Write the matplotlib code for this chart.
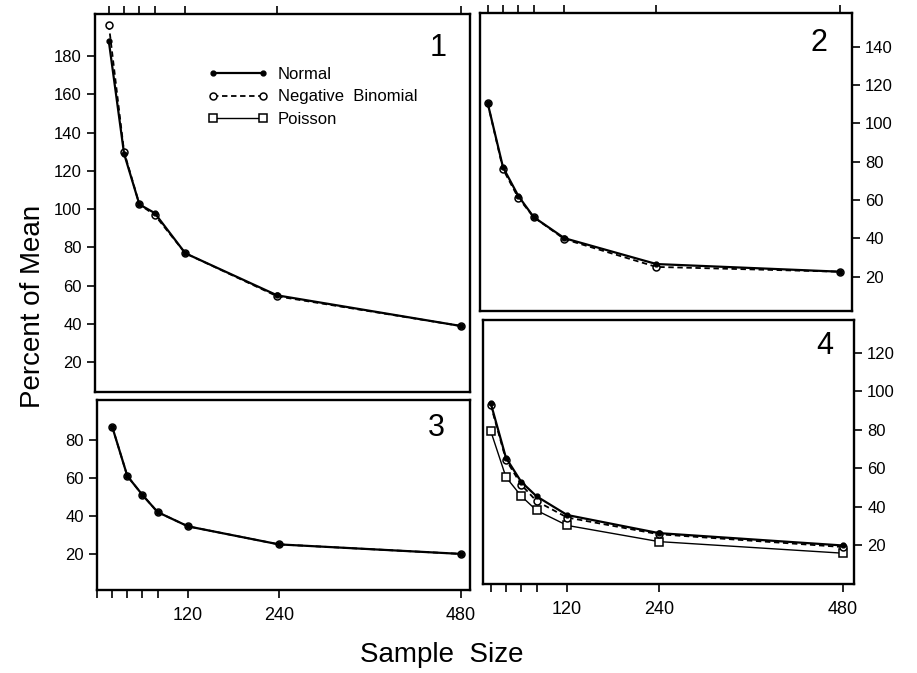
import numpy as np
import matplotlib.pyplot as plt

plt.rcParams['font.family'] = ['Liberation Sans', 'DejaVu Sans']

# sample sizes
sizes = [20, 40, 60, 80, 120, 240, 480]

# panel 1
p1_normal = [188, 129, 102.5, 98, 77, 55, 39]
p1_negbin = [196.5, 130, 102.5, 97, 77, 54.5, 39]
# panel 2
p2_normal = [110.5, 77, 62, 51, 40, 26.5, 22.5]
p2_negbin = [110.5, 76, 61, 51, 39.5, 25, 22.5]
# panel 3
p3_normal = [87, 61, 51, 42, 34.5, 25, 20]
p3_negbin = [87, 61, 51, 42, 34.5, 25, 20]
# panel 4
p4_normal = [94, 65.5, 53, 45.5, 35.8, 26.4, 20]
p4_negbin = [93, 64.5, 51.5, 43, 34.5, 25.8, 19.2]
p4_poisson = [79.5, 55.5, 45.6, 38.2, 30.4, 22, 16]

minor_x = [20, 40, 60, 80]
major_x = [120, 240, 480]

W, H = 917, 673
fig = plt.figure(figsize=(W / 100, H / 100), dpi=100)


def box(l, r, t, b):
    return fig.add_axes([l / W, 1 - b / H, (r - l) / W, (b - t) / H])


ax1 = box(95, 470, 14, 392)
ax2 = box(480, 852, 13, 311)
ax3 = box(97, 470, 400, 590)
ax4 = box(483, 854, 320, 584)

sty_n = dict(color='black', lw=1.6, ls='-', marker='o', ms=3.5, mfc='black', mec='black')
sty_nb = dict(color='black', lw=1.3, ls=(0, (3, 2)), marker='o', ms=5, mfc='white', mec='black', mew=1.1)
sty_p = dict(color='black', lw=1.0, ls='-', marker='s', ms=6, mfc='white', mec='black', mew=1.1)

ax1.plot(sizes, p1_negbin, label='Negative  Binomial', **sty_nb)
ax1.plot(sizes, p1_normal, label='Normal', **sty_n)
ax1.plot([], [], label='Poisson', **sty_p)

ax2.plot(sizes, p2_negbin, **sty_nb)
ax2.plot(sizes, p2_normal, **sty_n)

ax3.plot(sizes, p3_negbin, **sty_nb)
ax3.plot(sizes, p3_normal, **sty_n)

ax4.plot(sizes, p4_poisson, **sty_p)
ax4.plot(sizes, p4_negbin, **sty_nb)
ax4.plot(sizes, p4_normal, **sty_n)

ax1.set_ylim(4.5, 202)
ax2.set_ylim(2, 157.5)
ax3.set_ylim(1, 101)
ax4.set_ylim(0, 137)
for ax in (ax1, ax3):
    ax.set_xlim(2, 492)
for ax in (ax2, ax4):
    ax.set_xlim(10, 495)

ax1.set_yticks(np.arange(20, 181, 20))
ax2.set_yticks(np.arange(20, 141, 20))
ax3.set_yticks(np.arange(20, 81, 20))
ax4.set_yticks(np.arange(20, 121, 20))

for ax in (ax1, ax2, ax3, ax4):
    for s in ax.spines.values():
        s.set_linewidth(1.7)
    ax.tick_params(axis='both', which='both', direction='out', width=1.2, labelsize=12)
    ax.tick_params(which='major', length=6)
    ax.tick_params(which='minor', length=6)
    ax.set_xticks(major_x)
    ax.set_xticks(minor_x, minor=True)

# top panels: ticks on top, no labels
for ax in (ax1, ax2):
    ax.tick_params(axis='x', which='both', bottom=False, top=True, labelbottom=False, labeltop=False)
ax3.set_xticks([0] + minor_x, minor=True)
for ax in (ax3, ax4):
    ax.tick_params(axis='x', which='both', bottom=True, top=False, labelbottom=True, pad=6, labelsize=13)
    ax.set_xticklabels([str(v) for v in major_x])

for ax in (ax2, ax4):
    ax.yaxis.tick_right()
    ax.tick_params(axis='y', left=False, right=True, labelright=True, labelleft=False)

ax1.text(0.915, 0.91, '1', transform=ax1.transAxes, fontsize=22, ha='center', va='center')
ax2.text(0.91, 0.9, '2', transform=ax2.transAxes, fontsize=22, ha='center', va='center')
ax3.text(0.91, 0.85, '3', transform=ax3.transAxes, fontsize=22, ha='center', va='center')
ax4.text(0.92, 0.9, '4', transform=ax4.transAxes, fontsize=22, ha='center', va='center')

h, lab = ax1.get_legend_handles_labels()
order = [1, 0, 2]
ax1.legend([h[i] for i in order], [lab[i] for i in order], loc='upper left',
           bbox_to_anchor=(0.30, 0.86), frameon=False, numpoints=2, fontsize=12,
           handlelength=3.6, handletextpad=0.6, labelspacing=0.45,
           borderpad=0, borderaxespad=0)

fig.text(33 / W, 1 - 306 / H, 'Percent of Mean', rotation=90, fontsize=20, ha='center', va='center')
fig.text(442 / W, 1 - 655 / H, 'Sample  Size', fontsize=20, ha='center', va='center')

fig.savefig('out.png', dpi=100)
